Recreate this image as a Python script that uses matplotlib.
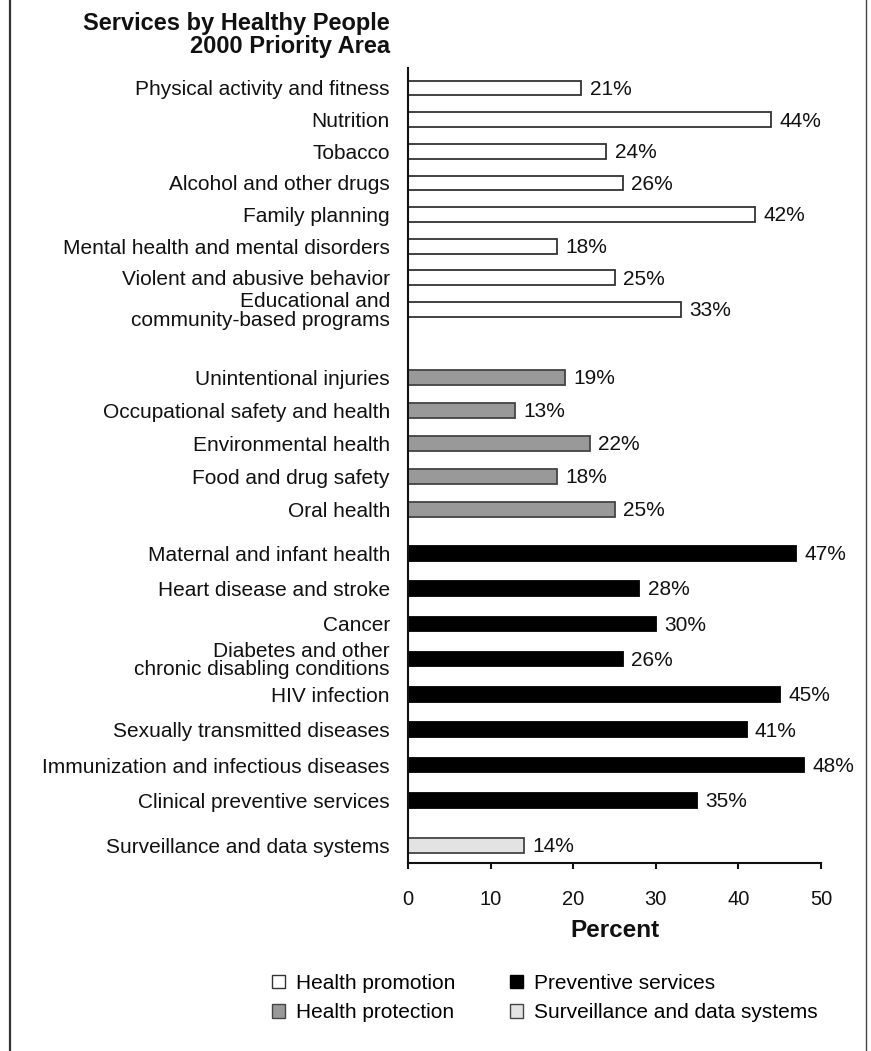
import numpy as np
import matplotlib
matplotlib.use("Agg")
import matplotlib.pyplot as plt
from matplotlib.patches import Patch
from matplotlib.lines import Line2D

plt.rcParams["font.family"] = ["Liberation Sans", "DejaVu Sans"]

# ================= DATA =================
promotion_labels = [
    "Physical activity and fitness",
    "Nutrition",
    "Tobacco",
    "Alcohol and other drugs",
    "Family planning",
    "Mental health and mental disorders",
    "Violent and abusive behavior",
    "Educational and\ncommunity-based programs",
]
promotion_values = [21, 44, 24, 26, 42, 18, 25, 33]

protection_labels = [
    "Unintentional injuries",
    "Occupational safety and health",
    "Environmental health",
    "Food and drug safety",
    "Oral health",
]
protection_values = [19, 13, 22, 18, 25]

preventive_labels = [
    "Maternal and infant health",
    "Heart disease and stroke",
    "Cancer",
    "Diabetes and other\nchronic disabling conditions",
    "HIV infection",
    "Sexually transmitted diseases",
    "Immunization and infectious diseases",
    "Clinical preventive services",
]
preventive_values = [47, 28, 30, 26, 45, 41, 48, 35]

surveillance_labels = ["Surveillance and data systems"]
surveillance_values = [14]

legend_names = ["Health promotion", "Health protection",
                "Preventive services", "Surveillance and data systems"]

# ================= STYLE =================
groups = [
    # labels, values, face, edge, step, gap after
    (promotion_labels, promotion_values, "white", "#333333", 0.95, 2.04),
    (protection_labels, protection_values, "#999999", "#444444", 0.99, 1.32),
    (preventive_labels, preventive_values, "black", "black", 1.06, 1.35),
    (surveillance_labels, surveillance_values, "#e3e3e3", "#444444", 1.0, 0),
]

fig = plt.figure(figsize=(8.71, 10.51), dpi=100)
ax = fig.add_axes([408 / 871, 1 - 863 / 1051, 413 / 871, 795 / 1051])

pos = 0.0
all_pos, all_labels = [], []
for labels, values, face, edge, step, gap in groups:
    ys = []
    for i in range(len(labels)):
        ys.append(pos)
        if i < len(labels) - 1:
            pos += step
    pos += gap
    ax.barh(ys, values, height=0.44, color=face, edgecolor=edge, linewidth=1.3)
    for y, v in zip(ys, values):
        ax.annotate(f"{v}%", xy=(v, y), xytext=(6, -1), textcoords="offset points",
                    va="center", ha="left", fontsize=15, color="#111111")
    all_pos += ys
    all_labels += labels

ax.set_xlim(0, 50)
ax.set_ylim(23.27, -0.6)
ax.set_yticks(all_pos)
ax.set_yticklabels(all_labels, fontsize=15, linespacing=0.95, color="#111111")
ax.tick_params(axis="y", length=0, pad=13)
ax.set_xticks([0, 10, 20, 30, 40, 50])
ax.tick_params(axis="x", direction="out", length=4, width=1.5, labelsize=14.5,
               pad=15.5, colors="#111111")
ax.set_xlabel("Percent", fontsize=17.5, fontweight="bold", labelpad=7, color="#111111")

for s in ["top", "right"]:
    ax.spines[s].set_visible(False)
for s in ["left", "bottom"]:
    ax.spines[s].set_linewidth(1.5)
    ax.spines[s].set_color("#111111")

# title
fig.text(390 / 871, 1 - 12 / 1051, "Services by Healthy People\n2000 Priority Area",
         ha="right", va="top", fontsize=17, fontweight="bold", linespacing=1.0,
         color="#111111")

# legend
faces = [g[2] for g in groups]
edges = [g[3] for g in groups]
handles = [Patch(facecolor=f, edgecolor=e, linewidth=1.0) for f, e in zip(faces, edges)]
fig.legend(handles, legend_names, loc="upper left", bbox_to_anchor=(272 / 871, 1 - 974 / 1051),
           ncol=2, frameon=False, fontsize=15, handlelength=0.62, handleheight=0.62,
           handletextpad=0.55, columnspacing=2.6, labelspacing=0.5, borderpad=0,
           borderaxespad=0)

# frame lines
fig.add_artist(Line2D([9.5 / 871, 9.5 / 871], [0, 1], color="#333333", linewidth=1.6))
fig.add_artist(Line2D([866 / 871, 866 / 871], [0, 1], color="#444444", linewidth=1.0))

fig.savefig("out.png", dpi=100)
